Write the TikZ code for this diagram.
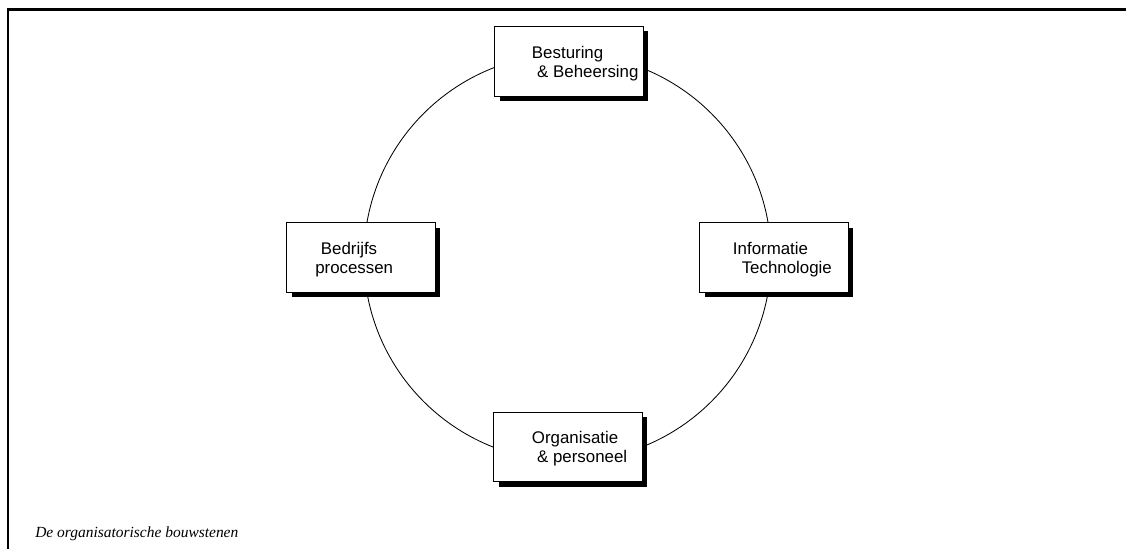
\documentclass[tikz,border=0pt]{standalone}
\usepackage{fontspec}
\setmainfont{Liberation Serif}
\newfontfamily\arialfont{Liberation Sans}
\usetikzlibrary{shadows}

\begin{document}
\begin{tikzpicture}[
  x=0.025cm, y=-0.025cm,
  blok/.style={draw=black, line width=0.7pt, fill=white, minimum width=3.7cm,
               minimum height=1.74cm, inner sep=0pt,
               general shadow={shadow xshift=0.12cm, shadow yshift=-0.12cm, fill=black}},
  bloktxt/.style={anchor=west, align=left, inner sep=0pt,
                  font=\arialfont\fontsize{12}{13.5}\selectfont},
]
\useasboundingbox (0,0) rectangle (1126,549);

% kader
\draw[line width=1.6pt] (1126,9.5) -- (8.3,9.5) -- (8.3,549);

% cirkel door de bouwstenen
\draw[line width=0.6pt] (567.5,257.5) circle[radius=5.0875cm];

\node[blok] (besturing) at (569,61.5) {};
\node[bloktxt] (besturing-t) at (531.7,63.5) {Besturing\\\hspace*{0.13cm}\& Beheersing};

\node[blok] (bedrijf) at (361,257.5) {};
\node[bloktxt] (bedrijf-t) at (315,259.5) {\hspace*{0.14cm}Bedrijfs\\processen};

\node[blok] (it) at (774,257.5) {};
\node[bloktxt] (it-t) at (732.7,259.5) {Informatie\\\hspace*{0.22cm}Technologie};

\node[blok] (organisatie) at (568,447) {};
\node[bloktxt] (organisatie-t) at (531.7,449) {Organisatie\\\hspace*{0.13cm}\& personeel};

\node[anchor=base west, inner sep=0pt, font=\itshape\fontsize{11}{13}\selectfont]
  (bijschrift) at (35,537) {De organisatorische bouwstenen};

\end{tikzpicture}
\end{document}
